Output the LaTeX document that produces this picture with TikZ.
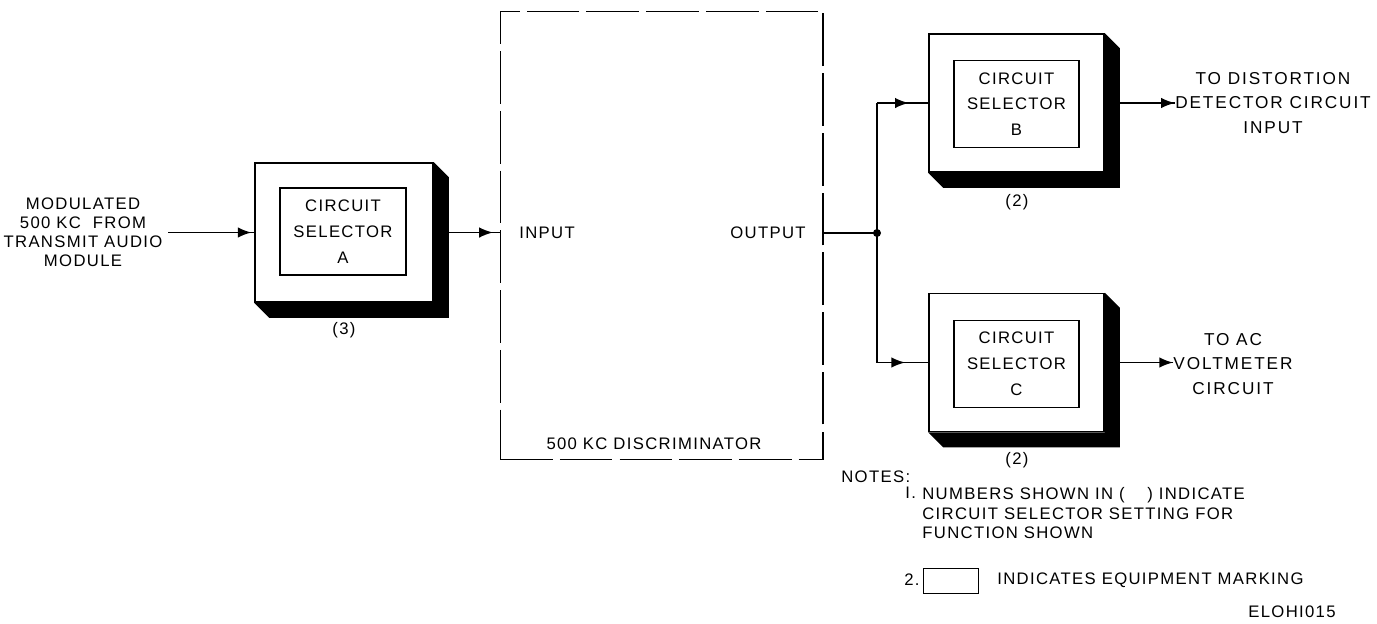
\documentclass[tikz,border=0pt]{standalone}
\usepackage{fontspec}
\newfontfamily\lettering[LetterSpace=8]{Liberation Sans}
\newfontfamily\widelettering[LetterSpace=11]{Liberation Sans}
\usepackage{tikz}
\usetikzlibrary{calc,decorations.markings,arrows,positioning}
\tikzset{
	lbl/.style={
		font=\lettering\fontsize{9.5}{13}\selectfont,
		align=center, inner sep=0pt, text=black
	},
	widelbl/.style={lbl, font=\widelettering\fontsize{9.8}{14}\selectfont},
	selector/.style={
		draw, rectangle, line width=1pt, fill=white,
		minimum width=3.5cm, minimum height=2.76cm, inner sep=0pt
	},
	marking/.style={
		draw, rectangle, line width=0.9pt,
		minimum width=2.5cm, minimum height=1.74cm, inner sep=0pt,
		font=\lettering\fontsize{9.5}{14.7}\selectfont, align=center
	},
	wire/.style={line width=0.8pt},
	tip_at/.style={
		wire, postaction={decorate},
		decoration={markings, mark=at position #1 with {\arrow[scale=1.5]{latex}}}
	}
}
\newcommand{\boxshadow}[1]{%
	\fill (#1.north east) -- ++(15,15) -- ($(#1.south east)+(15,15)$)
		-- ($(#1.south west)+(15,15)$) -- (#1.south west) -- (#1.south east) -- cycle;}

\begin{document}
\begin{tikzpicture}[x=0.02cm, y=-0.02cm]
	\useasboundingbox (0,0) rectangle (1377,623);
	% circuit selectors
	\node[selector, minimum width=3.56cm, minimum height=2.78cm] (A) at (344,232.5) {};
	\node[marking, minimum width=2.52cm] (Am) at (343,231.5) {CIRCUIT\\SELECTOR\\A};
	\node[selector] (B) at (1016.5,103) {};
	\node[marking] (Bm) at (1016.5,104) {CIRCUIT\\SELECTOR\\B};
	\node[selector] (C) at (1016.5,362.5) {};
	\node[marking] (Cm) at (1016.5,364) {CIRCUIT\\SELECTOR\\C};
	\foreach \n in {A,B,C} {\boxshadow{\n}}
	\node[lbl] (Aset) at (344,330) {(3)};
	\node[lbl] (Bset) at (1017,202) {(2)};
	\node[lbl] (Cset) at (1017,460) {(2)};

	% discriminator
	\node[draw, dash pattern=on 30pt off 4pt, line width=0.6pt,
		minimum width=6.46cm, minimum height=8.98cm] (disc) at (661.5,235.5) {};
	\node[lbl, anchor=west] (in) at (519,233) {INPUT};
	\node[lbl, anchor=east] (out) at (806,233) {OUTPUT};
	\node[lbl] (discname) at (654,444) {500 KC DISCRIMINATOR};

	% signal texts
	\node[lbl, inner xsep=3pt, font=\lettering\fontsize{9.5}{10.9}\selectfont] (src) at (83,232)
		{MODULATED\\500 KC\ \ FROM\\TRANSMIT AUDIO\\MODULE};
	\node[widelbl] (toB) at (1273,103) {TO DISTORTION\\DETECTOR CIRCUIT\\INPUT};
	\node[widelbl] (toC) at (1233,364) {TO AC\\VOLTMETER\\CIRCUIT};

	% connectors
	\draw[tip_at=0.97] (src.east |- A.west) -- (A.west);
	\draw[tip_at=0.9] (A.east) -- (disc.west |- A.east);
	\coordinate (jn) at (877,233);
	\coordinate (jb) at (jn |- B.west);
	\coordinate (jc) at (jn |- C.west);
	\draw[wire] (disc.east |- out) -- (jn);
	\fill (jn) circle[radius=4];
	\draw[wire] (jb) -- (jc);
	\draw[tip_at=0.62] (jb) -- (B.west);
	\draw[tip_at=0.55] (jc) -- (C.west);
	\draw[tip_at=1] (B.east) -- (toB.west |- B.east);
	\draw[tip_at=1] (C.east) -- (toC.west |- C.east);

	% notes
	\node[lbl, anchor=west] (notes) at (841,477) {NOTES:};
	\node[lbl, anchor=west] (n1) at (905,493) {I.};
	\node[lbl, anchor=north west, align=left, font=\lettering\fontsize{9.5}{11.2}\selectfont]
		(n1txt) at (922,487) {NUMBERS SHOWN IN (\quad\ ) INDICATE\\CIRCUIT SELECTOR SETTING FOR\\FUNCTION SHOWN};
	\node[lbl, anchor=west] (n2) at (904,580) {2.};
	\node[draw, line width=0.8pt, minimum width=1.1cm, minimum height=0.5cm] (mark) at (951,581) {};
	\node[lbl, anchor=west] (n2txt) at (997,580) {INDICATES EQUIPMENT MARKING};
	\node[lbl, anchor=west] (fig) at (1248,612) {ELOHI015};
\end{tikzpicture}
\end{document}
